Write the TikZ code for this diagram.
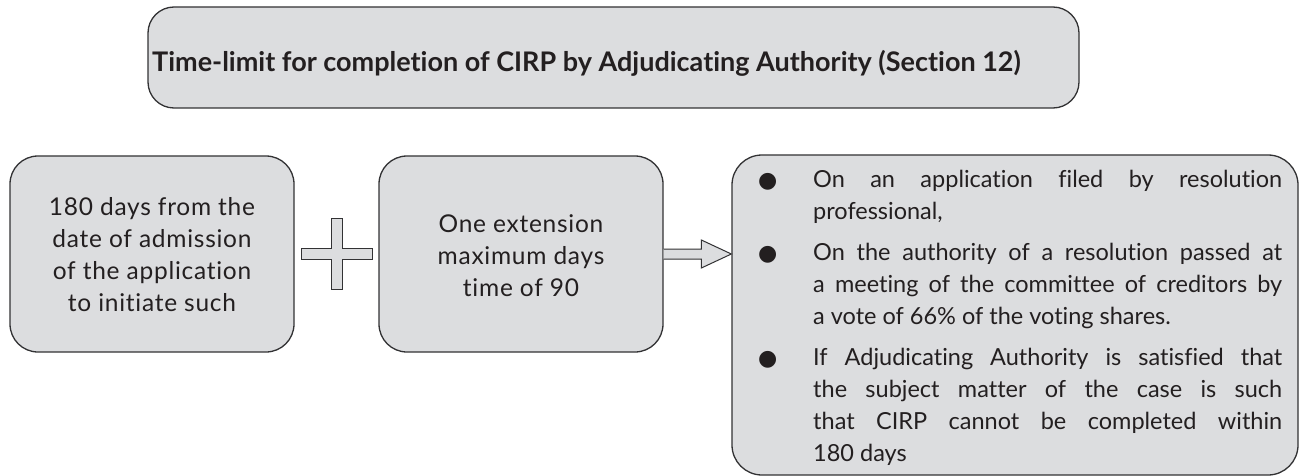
\documentclass[tikz,border=0pt]{standalone}
\usepackage{fontspec}
\setmainfont{Lato}[Ligatures={NoCommon,NoDiscretionary,NoContextual}]
\newfontfamily\widefont{Lato}[LetterSpace=3,Ligatures={NoCommon,NoDiscretionary,NoContextual}]
\newfontfamily\dotfont{DejaVu Sans}
\usetikzlibrary{calc}

\definecolor{boxfill}{RGB}{220,221,223}
\definecolor{boxline}{RGB}{50,50,52}
\definecolor{ink}{RGB}{35,31,32}

\newcommand{\bodyfont}{\fontsize{23.5}{32}\selectfont}
\newcommand{\periodfont}{\widefont\fontsize{24.5}{32.3}\selectfont}
\newcommand{\itemdot}{\makebox[55pt][l]{{\dotfont\fontsize{22}{22}\selectfont ●}}}
\newcommand{\jline}[1]{\makebox[469pt][s]{#1}}

\begin{document}
\begin{tikzpicture}[x=1pt,y=-1pt,
  panel/.style={draw=boxline,fill=boxfill,line width=1.3pt,rounded corners=28pt,
    inner sep=0pt,minimum width=#1},
  label/.style={inner sep=0pt,text=ink,font=\bodyfont},
  shapeline/.style={draw=boxline,fill=boxfill,line width=1pt,line join=miter}]
  \useasboundingbox (0,0) rectangle (1301,476);

  % heading box
  \node[panel=931pt,minimum height=101pt,rounded corners=26pt] (head) at (613.5,57.5) {};
  \node[label,anchor=base west,font=\fontsize{27}{32}\selectfont\bfseries] (headtext)
    at (152,72) {Time-limit for completion of CIRP by Adjudicating Authority (Section 12)};

  % the two periods
  \node[panel=284pt,minimum height=196pt] (base) at (152,254) {};
  \node[panel=284pt,minimum height=196pt] (ext) at (521,254) {};
  \node[panel=566pt,minimum height=320pt,rounded corners=30pt] (cond) at (1015,315) {};

  \node[label,anchor=base] (basetext) at (152,215) {%
    \begin{minipage}[t]{280pt}\centering\periodfont
      180 days from the\\ date of admission\\ of the application\\ to initiate such
    \end{minipage}};
  \node[label,anchor=base] (exttext) at (521,232) {%
    \begin{minipage}[t]{280pt}\centering\periodfont
      One extension\\ maximum days\\ time of 90
    \end{minipage}};

  % conditions for the extension
  \node[label,anchor=base west] (condtext) at (758,187) {%
    \begin{minipage}[t]{530pt}\bodyfont
      \itemdot\jline{On an application filed by resolution}\\
      \hspace*{55pt}professional,\\[9pt]
      \itemdot\jline{On the authority of a resolution passed at}\\
      \hspace*{55pt}\jline{a meeting of the committee of creditors by}\\
      \hspace*{55pt}a vote of 66\% of the voting shares.\\[9pt]
      \itemdot\jline{If Adjudicating Authority is satisfied that}\\
      \hspace*{55pt}\jline{the subject matter of the case is such}\\
      \hspace*{55pt}\jline{that CIRP cannot be completed within}\\
      \hspace*{55pt}180 days
    \end{minipage}};

  % plus sign between the two periods
  \coordinate (plus) at ($(base.east)!0.5!(ext.west)$);
  \draw[shapeline] ($(plus)+(-5.5,-35.5)$) -- ++(11,0) -- ++(0,30) -- ++(30,0)
    -- ++(0,11) -- ++(-30,0) -- ++(0,30) -- ++(-11,0) -- ++(0,-30) -- ++(-30,0)
    -- ++(0,-11) -- ++(30,0) -- cycle;

  % block arrow to the conditions
  \coordinate (tip) at (cond.west |- ext.east);
  \draw[shapeline] ($(ext.east)+(0,-5)$) -- ($(tip)+(-30,-5)$) -- ($(tip)+(-30,-14)$)
    -- (tip) -- ($(tip)+(-30,14)$) -- ($(tip)+(-30,5)$) -- ($(ext.east)+(0,5)$);
\end{tikzpicture}
\end{document}
